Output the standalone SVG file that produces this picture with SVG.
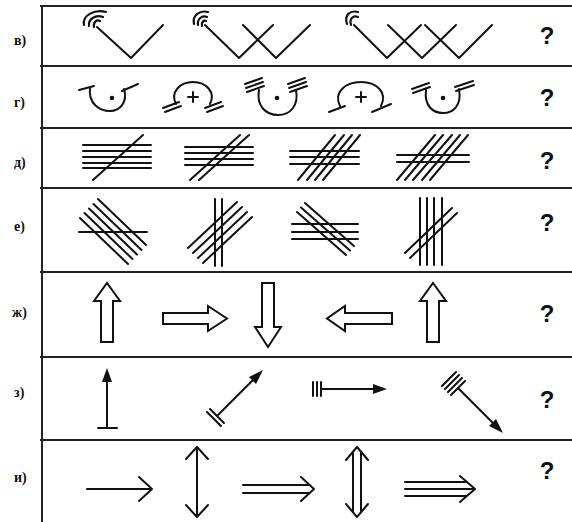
<svg xmlns="http://www.w3.org/2000/svg" width="572" height="522" viewBox="0 0 572 522">
<style>
.frame{stroke:#222;stroke-width:2;fill:none}
.ln{stroke:#111;stroke-width:2;fill:none;stroke-linecap:round;stroke-linejoin:round}
.thin{stroke:#111;stroke-width:2.2;fill:none;stroke-linecap:round}
.ol{stroke:#111;stroke-width:2;fill:#fff;stroke-linejoin:miter}
.lbl{font-family:"Liberation Serif","Times New Roman",serif;font-weight:bold;font-size:14px;fill:#111}
.q{font-family:"Liberation Sans",Arial,sans-serif;font-weight:bold;font-size:24px;fill:#111;text-anchor:middle}
.dot{fill:#111}
.head{fill:#111;stroke:none}
</style>
<rect width="572" height="522" fill="#fff"/>
<g id="frame">
<line class="frame" x1="42" y1="6" x2="42" y2="522"/>
<line class="frame" x1="40" y1="6" x2="572" y2="6"/>
<line class="frame" x1="40" y1="66" x2="572" y2="66"/>
<line class="frame" x1="40" y1="128" x2="572" y2="128"/>
<line class="frame" x1="40" y1="188" x2="572" y2="188"/>
<line class="frame" x1="40" y1="272" x2="572" y2="272"/>
<line class="frame" x1="40" y1="357" x2="572" y2="357"/>
<line class="frame" x1="40" y1="440" x2="572" y2="440"/>
</g>
<g id="labels">
<text class="lbl" x="14" y="45">в)</text>
<text class="lbl" x="14" y="107">г)</text>
<text class="lbl" x="14" y="167">д)</text>
<text class="lbl" x="14" y="231">е)</text>
<text class="lbl" x="12" y="317">ж)</text>
<text class="lbl" x="14" y="397">з)</text>
<text class="lbl" x="14" y="482">и)</text>
</g>
<g id="questions">
<text class="q" x="547" y="44">?</text>
<text class="q" x="547" y="106">?</text>
<text class="q" x="547" y="169">?</text>
<text class="q" x="547" y="231">?</text>
<text class="q" x="547" y="322">?</text>
<text class="q" x="547" y="408">?</text>
<text class="q" x="547" y="479">?</text>
</g>
<g id="row-v">
<g id="v1">
<path class="ln" d="M97 27 L131 58 L163 25"/>
<path class="thin" d="M84 25 C82 15 95 9 106 12 M89 26 C88 19 96 14 103 17 M94 27 C93 22 97 19 100 21"/>
</g>
<g id="v2">
<path class="ln" d="M205 25 L239 58 L273 25 M243 25 L276 58 L310 25"/>
<path class="thin" d="M194 24 C192 15 200 10 208 12 M198 25 C197 19 202 15 207 17 M202 26 C201 22 204 20 206 21"/>
</g>
<g id="v3">
<path class="ln" d="M354 25 L387 58 L421 25 M388 25 L422 58 L456 25 M425 25 L459 58 L492 25"/>
<path class="thin" d="M347 24 C344 15 350 10 358 12 M351 25 C349 19 353 15 358 17"/>
</g>
</g>
<g id="row-g">
<g id="g1">
<path class="ln" d="M90 88 C88 104 100 111 110 111 C120 111 128 102 124 89"/>
<line class="ln" x1="79" y1="90" x2="94" y2="86"/>
<line class="ln" x1="122" y1="91" x2="138" y2="84"/>
<circle class="dot" cx="112" cy="98" r="2.3"/>
</g>
<g id="g2">
<path class="ln" d="M176 104 C170 92 180 82 193 82 C206 82 216 92 210 104"/>
<line class="ln" x1="163" y1="108" x2="179" y2="102"/>
<line class="ln" x1="165" y1="112" x2="181" y2="106"/>
<line class="ln" x1="205" y1="108" x2="221" y2="102"/>
<line class="ln" x1="207" y1="112" x2="223" y2="106"/>
<path class="ln" d="M188 97 H198 M193 92 V102"/>
</g>
<g id="g3">
<path class="ln" d="M259 90 C256 106 266 115 278 115 C290 115 299 106 296 90"/>
<line class="ln" x1="245" y1="84" x2="262" y2="78"/>
<line class="ln" x1="246" y1="88" x2="263" y2="82"/>
<line class="ln" x1="247" y1="92" x2="264" y2="86"/>
<line class="ln" x1="288" y1="84" x2="305" y2="78"/>
<line class="ln" x1="289" y1="88" x2="306" y2="82"/>
<line class="ln" x1="290" y1="92" x2="307" y2="86"/>
<circle class="dot" cx="277" cy="98" r="2.3"/>
</g>
<g id="g4">
<path class="ln" d="M340 106 C333 92 346 82 361 82 C376 82 388 92 381 106"/>
<line class="ln" x1="329" y1="112" x2="345" y2="106"/>
<line class="ln" x1="372" y1="112" x2="391" y2="104"/>
<path class="ln" d="M356 97 H366 M361 92 V102"/>
</g>
<g id="g5">
<path class="ln" d="M426 90 C424 106 433 113 443 113 C453 113 462 106 459 89"/>
<line class="ln" x1="412" y1="89" x2="429" y2="83"/>
<line class="ln" x1="413" y1="93" x2="430" y2="87"/>
<line class="ln" x1="455" y1="87" x2="473" y2="81"/>
<line class="ln" x1="456" y1="91" x2="474" y2="85"/>
<circle class="dot" cx="443" cy="98" r="2.3"/>
</g>
</g>
<g id="row-d">
<g id="d1">
<path class="ln" d="M83 145 H151 M83 151 H151 M83 157 H151 M83 163 H151 M83 168 H151"/>
<path class="ln" d="M93 180 L143 135"/>
</g>
<g id="d2">
<path class="ln" d="M185 147 H253 M185 153 H253 M185 159 H253 M185 165 H253"/>
<path class="ln" d="M190 180 L240 135 M199 180 L249 135"/>
</g>
<g id="d3">
<path class="ln" d="M290 151 H359 M290 157 H359 M290 164 H359"/>
<path class="ln" d="M298 180 L335 135 M307 180 L344 135 M315 180 L352 135 M323 180 L360 135"/>
</g>
<g id="d4">
<path class="ln" d="M397 155 H469 M397 162 H469"/>
<path class="ln" d="M397 180 L435 135 M405 180 L443 135 M413 180 L452 135 M422 180 L460 135 M430 180 L468 135"/>
</g>
</g>
<g id="row-e">
<g id="e1">
<path class="ln" d="M79 232 H147"/>
<path class="ln" d="M80 218 L128 264 M84.5 213 L132.5 259 M89 208.5 L137 254.5 M93.5 204 L141.5 250 M98 199 L146 245"/>
</g>
<g id="e2">
<path class="ln" d="M215 199 V266 M222 199 V266"/>
<path class="ln" d="M188 248 L237 202 M193 253 L242 207 M198 258 L247 212 M203 263 L252 217"/>
</g>
<g id="e3">
<path class="ln" d="M292 224 H358 M292 232 H358 M292 239 H358"/>
<path class="ln" d="M297 212 L346 255 M301 207.5 L350 250.5 M305 203 L354 246"/>
</g>
<g id="e4">
<path class="ln" d="M420 198 V265 M427 198 V265 M434 198 V265 M442 198 V265"/>
<path class="ln" d="M405 253 L452 208 M410 258 L457 213"/>
</g>
</g>
<g id="row-zh">
<polygon id="zh1" class="ol" points="101,342 113,342 113,301 120,301 107,283 94,301 101,301"/>
<polygon id="zh2" class="ol" points="163,313 208,313 208,306 227,318.5 208,331 208,324 163,324"/>
<polygon id="zh3" class="ol" points="262,283 274,283 274,327 281,327 268,347 255,327 262,327"/>
<polygon id="zh4" class="ol" points="392,313 345,313 345,306 327,318.5 345,331 345,324 392,324"/>
<polygon id="zh5" class="ol" points="427,342 439,342 439,301 446,301 433,283 420,301 427,301"/>
</g>
<g id="row-z">
<g id="z1">
<path class="ln" d="M107 428 V380 M98 428 H117"/>
<polygon class="head" points="107,368 102,382 112,382"/>
</g>
<g id="z2">
<path class="ln" d="M217 416 L254 379 M210 409 L224 423 M207 412 L221 426"/>
<polygon class="head" points="263,370 249,377 256,384"/>
</g>
<g id="z3">
<path class="ln" d="M313 382 V396 M317 382 V396 M321 382 V396 M321 389 H374"/>
<polygon class="head" points="387,389 373,384 373,394"/>
</g>
<g id="z4">
<path class="ln" d="M458 388 L494 424 M451 395 L465 381 M448 392 L462 378 M445 389 L459 375 M442 386 L456 372"/>
<polygon class="head" points="503,433 489,426 496,419"/>
</g>
</g>
<g id="row-i">
<g id="i1"><path class="ln" d="M87 489 H152 M139 477 L152 489 L139 501"/></g>
<g id="i2"><path class="ln" d="M197 447 V517 M186 459 L197 447 L208 459 M186 505 L197 517 L208 505"/></g>
<g id="i3"><path class="ln" d="M243 485 H309 M243 493 H309 M301 477 L314 489 L301 501"/></g>
<g id="i4"><path class="ln" d="M353 453 V511 M361 453 V511 M346 460 L357 447 L368 460 M346 504 L357 517 L368 504"/></g>
<g id="i5"><path class="ln" d="M405 482 H466 M405 489 H473 M405 496 H466 M460 476 L475 489 L460 502"/></g>
</g>
</svg>
